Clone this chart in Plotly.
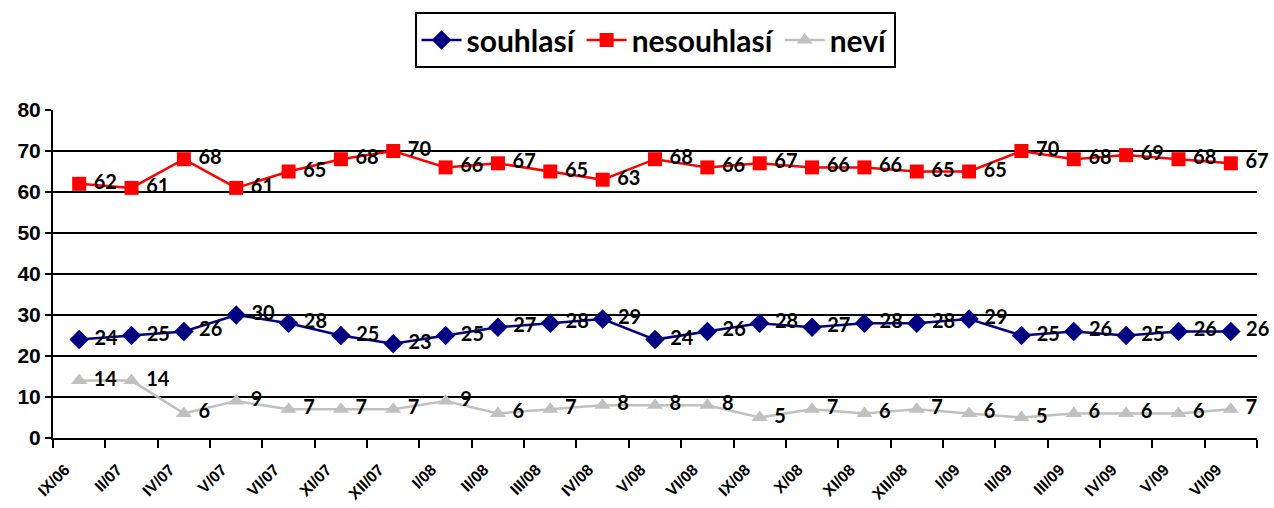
import plotly.graph_objects as go

categories = ["IX/06", "II/07", "IV/07", "V/07", "VI/07", "XI/07", "XII/07", "I/08", "II/08",
              "III/08", "IV/08", "V/08", "VI/08", "IX/08", "X/08", "XI/08", "XII/08", "I/09",
              "II/09", "III/09", "IV/09", "V/09", "VI/09"]
souhlasi = [24, 25, 26, 30, 28, 25, 23, 25, 27, 28, 29, 24, 26, 28, 27, 28, 28, 29, 25, 26, 25, 26, 26]
nesouhlasi = [62, 61, 68, 61, 65, 68, 70, 66, 67, 65, 63, 68, 66, 67, 66, 66, 65, 65, 70, 68, 69, 68, 67]
nevi = [14, 14, 6, 9, 7, 7, 7, 9, 6, 7, 8, 8, 8, 5, 7, 6, 7, 6, 5, 6, 6, 6, 7]
y_ticks = [0, 10, 20, 30, 40, 50, 60, 70, 80]

label_font = dict(family="Lato, Open Sans, sans-serif", size=20, color="black", weight="bold")

series = [
    ("souhlasí", souhlasi, "#000080", "diamond", 15),
    ("nesouhlasí", nesouhlasi, "#FF0000", "square", 14),
    ("neví", nevi, "#C0C0C0", "triangle-up", 14),
]

fig = go.Figure()
for name, vals, color, sym, size in series:
    fig.add_trace(go.Scatter(
        x=categories, y=vals, name=name,
        mode="lines+markers+text",
        line=dict(color=color, width=2.5),
        marker=dict(symbol=sym, size=size, color=color),
        text=[" " + str(v) for v in vals],
        textposition="middle right",
        textfont=label_font,
        cliponaxis=False,
    ))

fig.update_layout(
    width=1274, height=508,
    paper_bgcolor="white", plot_bgcolor="white",
    margin=dict(l=53, r=17, t=110, b=70),
    showlegend=True,
    legend=dict(
        orientation="h", x=0.5, xanchor="center", y=0.866, yanchor="bottom",
        yref="container",
        bordercolor="black", borderwidth=2,
        font=dict(family="Lato, Open Sans, sans-serif", size=30, color="black", weight="bold"),
        itemwidth=40,
    ),
    xaxis=dict(
        type="category", tickson="boundaries",
        showline=True, linecolor="black", linewidth=2,
        ticks="outside", ticklen=8, tickwidth=2, tickcolor="black",
        tickangle=-45,
        tickfont=dict(family="Liberation Sans, Arial, sans-serif", size=16, color="black", weight="bold"),
        ticklabelshift=-14, ticklabelstandoff=14,
        showgrid=False, automargin=False,
        range=[-0.5, len(categories) - 0.5],
    ),
    yaxis=dict(
        range=[0, 80], tickvals=y_ticks,
        showline=True, linecolor="black", linewidth=2,
        ticks="outside", ticklen=6, tickwidth=2, tickcolor="black",
        showgrid=True, gridcolor="black", gridwidth=2,
        zeroline=False, automargin=False,
        tickfont=dict(family="Liberation Sans, Arial, sans-serif", size=21, color="black", weight="bold"),
    ),
)

fig.write_html("out.html", config={"displayModeBar": False},
               post_script="document.body.style.margin='0';document.body.style.padding='0';document.body.style.overflow='hidden';")
